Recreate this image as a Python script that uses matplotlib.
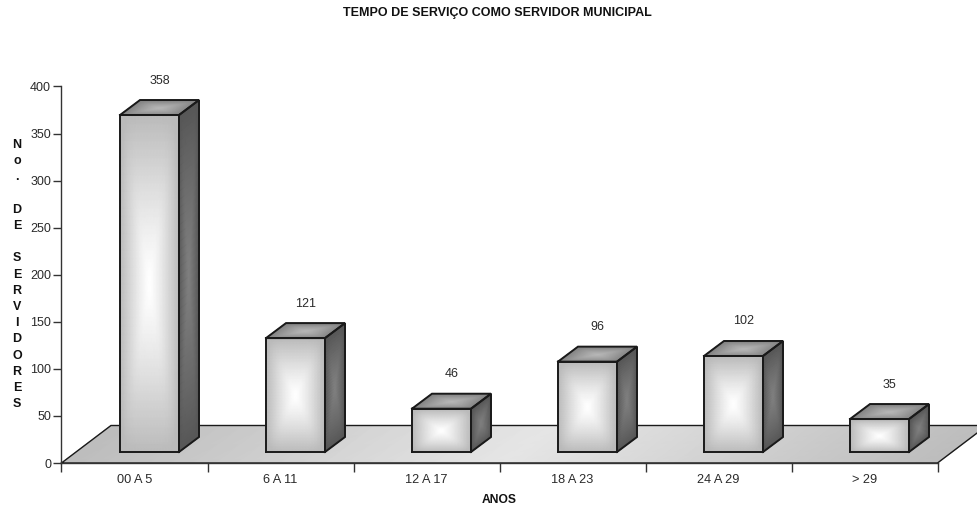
import numpy as np
import matplotlib
matplotlib.use("Agg")
import matplotlib.pyplot as plt

categories = ["00 A 5", "6 A 11", "12 A 17", "18 A 23", "24 A 29", "> 29"]
values = [358, 121, 46, 96, 102, 35]
yticks = [0, 50, 100, 150, 200, 250, 300, 350, 400]
title = "TEMPO DE SERVIÇO COMO SERVIDOR MUNICIPAL"
xlabel = "ANOS"
ylabel = "No. DE SERVIDORES"

W, H = 977, 511
plt.rcParams["font.family"] = ["Liberation Sans", "DejaVu Sans"]
fig = plt.figure(figsize=(W / 100, H / 100), dpi=100, facecolor="white")
L, R, B, T = 61.5, 937.5, 463.0, 86.5
ax = fig.add_axes([L / W, 1 - B / H, (R - L) / W, (B - T) / H])
ax.set_xlim(0, 6)
ax.set_ylim(0, 400)
PX = 6 / (R - L)
PY = 400 / (B - T)
EDGE = "#1a1a1a"
TXT = "#2a2a2a"


def face(origin, ex, ey, edge_v, mid_v, zorder, n=41, mode="pyr", lw=1.4):
    u = np.linspace(-1, 1, n)
    U, V = np.meshgrid(u, u)
    X = origin[0] + (U + 1) / 2 * ex[0] + (V + 1) / 2 * ey[0]
    Y = origin[1] + (U + 1) / 2 * ex[1] + (V + 1) / 2 * ey[1]
    if mode == "h":
        S = np.abs(U)
    else:
        # rounded pyramid: softens the diagonal creases of a box gradient
        S = (np.abs(U) ** 6 + np.abs(V) ** 6) ** (1 / 6)
        S = np.minimum(S, 1) ** 1.25
    C = mid_v + (edge_v - mid_v) * S
    ax.pcolormesh(X, Y, C, cmap="gray", vmin=0, vmax=1, shading="gouraud",
                  zorder=zorder, clip_on=False, rasterized=True)
    px = [origin[0], origin[0] + ex[0], origin[0] + ex[0] + ey[0], origin[0] + ey[0], origin[0]]
    py = [origin[1], origin[1] + ex[1], origin[1] + ex[1] + ey[1], origin[1] + ey[1], origin[1]]
    ax.plot(px, py, color=EDGE, lw=lw, zorder=zorder + 0.5, clip_on=False,
            solid_joinstyle="miter")


# floor
face((0, 0), (6, 0), (49.5 * PX, 37.5 * PY), 0.74, 0.90, 1, mode="h", lw=1.0)

# bars
BW = 59 * PX
DX, DY = 20 * PX, 15 * PY
BX, BY = 58.5 * PX, 11 * PY
for i, val in enumerate(values):
    x0 = i + BX
    z = 3 + i
    face((x0, BY), (BW, 0), (0, val), 0.73, 1.0, z)
    face((x0 + BW, BY), (DX, DY), (0, val), 0.34, 0.50, z)
    face((x0, BY + val), (BW, 0), (DX, DY), 0.52, 0.72, z)
    ax.text(x0 + BW / 2 + DX / 2, BY + val + DY + 19.5 * PY, str(val),
            ha="center", va="center", fontsize=9, color=TXT, clip_on=False)

# axes
for s in ("top", "right"):
    ax.spines[s].set_visible(False)
for s in ("left", "bottom"):
    ax.spines[s].set_color("#333333")
    ax.spines[s].set_linewidth(1.0)
    ax.spines[s].set_zorder(2)
ax.set_yticks(yticks)
ax.set_xticks(range(7))
ax.set_xticklabels([])
ax.tick_params(axis="y", length=6, width=1, color="#333333", labelsize=9,
               labelcolor=TXT, pad=1.5)
ax.tick_params(axis="x", length=6.5, width=1, color="#333333")
for i, c in enumerate(categories):
    ax.text(i + 0.5, -17 * PY, c, ha="center", va="center", fontsize=9.2,
            color=TXT, clip_on=False)

fig.text(497 / W, 1 - 13 / H, title, ha="center", va="center", fontsize=9,
         fontweight="bold", color="#111111")
fig.text(499.5 / W, 1 - 500 / H, xlabel, ha="center", va="center", fontsize=8.7,
         fontweight="bold", color="#111111")
letters = "\n".join("" if ch == " " else ch for ch in ylabel)
fig.text(17 / W, 1 - 274.5 / H, letters, ha="center", va="center", fontsize=9,
         fontweight="bold", color="#111111", linespacing=1.47)

fig.savefig("out.png", dpi=100)
